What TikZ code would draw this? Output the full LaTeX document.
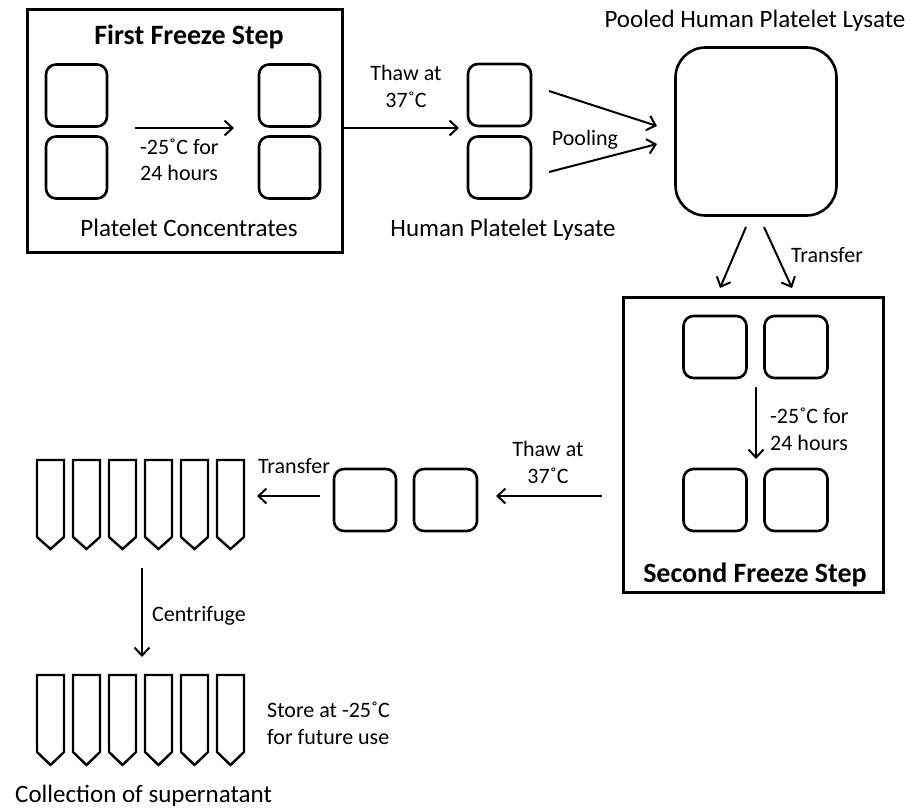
\documentclass[tikz,border=0pt]{standalone}
\usepackage{fontspec}
\setmainfont{Carlito}
\usetikzlibrary{arrows.meta}
\begin{document}
\begin{tikzpicture}[x=1pt,y=-1pt,
  bag/.style={draw, line width=2.6pt, rounded corners=10pt, inner sep=0pt, minimum width=61pt, minimum height=62pt},
  frame/.style={draw, line width=2.8pt, inner sep=0pt},
  arr/.style={line width=2pt, -{Straight Barb[length=8pt,width=15pt,line width=2pt]}},
  lbl/.style={font=\fontsize{22}{27}\selectfont, inner sep=0pt},
  big/.style={font=\fontsize{25}{30}\selectfont, inner sep=0pt},
  ttl/.style={font=\fontsize{28}{34}\selectfont\bfseries, inner sep=0pt},
  tube/.style={draw, line width=2.4pt, line join=miter}
]
\useasboundingbox (0,0) rectangle (923,809);

% first freeze box
\node[frame, minimum width=315pt, minimum height=243pt] (box1) at (185,131) {};
\node[ttl, anchor=base] (t1) at (189,44) {First Freeze Step};
\node[bag] (pc1) at (76.5,95.5) {};
\node[bag] (pc2) at (76.5,167.5) {};
\node[bag] (pf1) at (289.5,95.5) {};
\node[bag] (pf2) at (289.5,167.5) {};
\node[big, anchor=base] (lpc) at (189,236) {Platelet Concentrates};
\coordinate (a1s) at (135,128);
\coordinate (a1e) at (234,128);
\draw[arr] (a1s) -- (a1e);
\node[lbl, anchor=base west, align=left, font=\fontsize{22}{26}\selectfont] (l1) at (140,180) {-25˚C for\\24 hours};

% thaw
\coordinate (a2e) at (459,128);
\draw[arr] (box1.east |- a2e) -- (a2e);
\node[lbl, anchor=base, align=center] (l2) at (406,107) {Thaw at\\37˚C};

% HPL
\node[bag, minimum width=63pt] (h1) at (499.5,95) {};
\node[bag, minimum width=63pt] (h2) at (499.5,167.5) {};
\node[big, anchor=base] (lh) at (503,236) {Human Platelet Lysate};

% pooled
\node[draw, line width=2.6pt, rounded corners=30pt, minimum width=161pt, minimum height=168pt] (pool) at (756,131.5) {};
\node[big, anchor=base] (lp) at (755,27) {Pooled Human Platelet Lysate};
\coordinate (p1s) at (549,91);
\coordinate (p1e) at (657,126);
\coordinate (p2s) at (549,172);
\coordinate (p2e) at (657,144);
\draw[arr] (p1s) -- (p1e);
\draw[arr] (p2s) -- (p2e);
\node[lbl, anchor=base] (lpool) at (585,145) {Pooling};

% transfer to second freeze
\coordinate (t1s) at (746,227);
\coordinate (t1e) at (720,288);
\coordinate (t2s) at (764,227);
\coordinate (t2e) at (792,288);
\draw[arr] (t1s) -- (t1e);
\draw[arr] (t2s) -- (t2e);
\node[lbl, anchor=base] (ltr) at (827,262) {Transfer};

% second freeze box
\node[frame, minimum width=260pt, minimum height=295pt] (box2) at (753.5,445) {};
\node[bag, minimum width=63pt] (s1) at (715,347) {};
\node[bag, minimum width=63pt] (s2) at (796,347) {};
\node[bag, minimum width=63pt] (s3) at (715,500) {};
\node[bag, minimum width=63pt] (s4) at (796,500) {};
\coordinate (d1s) at (756,387);
\coordinate (d1e) at (756,459);
\draw[arr] (d1s) -- (d1e);
\node[lbl, anchor=base west, align=left] (l3) at (770,450) {-25˚C for\\24 hours};
\node[ttl, anchor=base] (t2) at (755,582) {Second Freeze Step};

% thaw 2
\coordinate (b1e) at (496,496);
\draw[arr] (box2.west |- b1e) ++(-20,0) coordinate (b1s) -- (b1e);
\node[lbl, anchor=base, align=center] (l4) at (548,483) {Thaw at\\37˚C};
\node[bag, minimum width=62pt] (m1) at (365,500) {};
\node[bag, minimum width=63pt] (m2) at (445.5,500) {};

% transfer 2
\coordinate (c1s) at (320,496);
\coordinate (c1e) at (257,496);
\draw[arr] (c1s) -- (c1e);
\node[lbl, anchor=base] (l5) at (294,473) {Transfer};

% tubes row 1
\foreach \i in {0,...,5} {
  \draw[tube] (37+36*\i,460) -- (37+36*\i,537) -- (50.5+36*\i,549) -- (64+36*\i,537) -- (64+36*\i,460) -- cycle;
}
% centrifuge
\coordinate (e1s) at (142,568);
\coordinate (e1e) at (142,657);
\draw[arr] (e1s) -- (e1e);
\node[lbl, anchor=base west] (l6) at (152,621) {Centrifuge};

% tubes row 2
\foreach \i in {0,...,5} {
  \draw[tube] (37+36*\i,675) -- (37+36*\i,752) -- (50.5+36*\i,765) -- (64+36*\i,752) -- (64+36*\i,675) -- cycle;
}
\node[lbl, anchor=base west, align=left] (l7) at (267,744) {Store at -25˚C\\for future use};
\node[big, anchor=base west] (l8) at (15,802) {Collection of supernatant};
\end{tikzpicture}
\end{document}
